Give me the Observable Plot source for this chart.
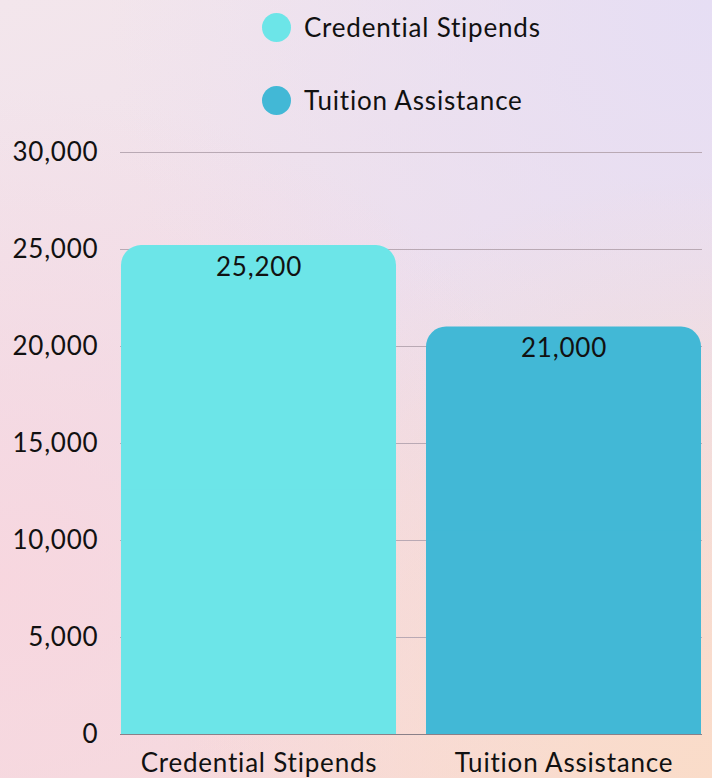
<!DOCTYPE html>
<html>
<head>
<meta charset="utf-8">
<script src="https://cdn.jsdelivr.net/npm/d3@7"></script>
<script src="https://cdn.jsdelivr.net/npm/@observablehq/plot@0.6"></script>
<style>
  html, body { margin: 0; padding: 0; }
  body {
    width: 712px; height: 778px; overflow: hidden;
    font-family: Lato, "Noto Sans", sans-serif;
    background:
      radial-gradient(ellipse at 100% 100%, rgba(250,220,200,0.95) 0%, rgba(250,220,200,0) 55%),
      radial-gradient(ellipse at 0% 75%, rgba(248,214,222,0.9) 0%, rgba(248,214,222,0) 60%),
      radial-gradient(ellipse at 100% 0%, rgba(230,222,244,1) 0%, rgba(230,222,244,0) 60%),
      linear-gradient(160deg, #f3e6ec 0%, #efdeea 50%, #f8dad8 100%);
  }
  #legend { height: 130px; position: relative; }
  .item { position: absolute; left: 262px; display: flex; align-items: center; font-size: 26px; letter-spacing: 0.8px; color: #111; }
  .sw { width: 29px; height: 29px; border-radius: 50%; margin-right: 13px; }
  svg { display: block; background: transparent; }
  svg text { letter-spacing: 0.8px; }
</style>
</head>
<body>
<div id="legend"></div>
<div id="chart"></div>
<script>
const categories = ["Credential Stipends", "Tuition Assistance"];
const values = [25200, 21000];
const colors = ["#6ce5e8", "#42b8d6"];
const yTicks = [0, 5000, 10000, 15000, 20000, 25000, 30000];

const data = categories.map((c, i) => ({category: c, value: values[i], color: colors[i]}));
const fmt = d3.format(",");

const legend = document.getElementById("legend");
categories.forEach((c, i) => {
  const el = document.createElement("div");
  el.className = "item";
  el.style.top = (i === 0 ? 11 : 84) + "px";
  el.innerHTML = `<span class="sw" style="background:${colors[i]}"></span><span>${c}</span>`;
  legend.appendChild(el);
});

const chart = Plot.plot({
  width: 712,
  height: 648,
  marginTop: 22,
  marginBottom: 44,
  marginLeft: 120,
  marginRight: 10,
  style: {fontFamily: "Lato, 'Noto Sans', sans-serif", fontSize: "26px", color: "#111", background: "transparent"},
  x: {domain: categories, paddingInner: 0.098, paddingOuter: 0, label: null},
  y: {domain: [0, 30000], ticks: yTicks, label: null},
  marks: [
    Plot.gridY(yTicks.filter(t => t > 0), {stroke: "#b9a9b4", strokeOpacity: 1, strokeWidth: 1}),
    Plot.ruleY([0], {stroke: "#8a8088", strokeWidth: 1}),
    Plot.barY(data, {x: "category", y: "value", fill: "color", rx: 20}),
    Plot.barY(data, {x: "category", y1: 0, y2: d => d.value / 2, fill: "color"}),
    Plot.text(data, {x: "category", y: "value", text: d => fmt(d.value), dy: 22, fill: "#111", fontSize: 26}),
    Plot.axisY({ticks: yTicks, tickSize: 0, tickPadding: 22, tickFormat: fmt, fontSize: 26}),
    Plot.axisX({tickSize: 0, tickPadding: 19, fontSize: 26})
  ]
});
document.getElementById("chart").appendChild(chart);
</script>
</body>
</html>
